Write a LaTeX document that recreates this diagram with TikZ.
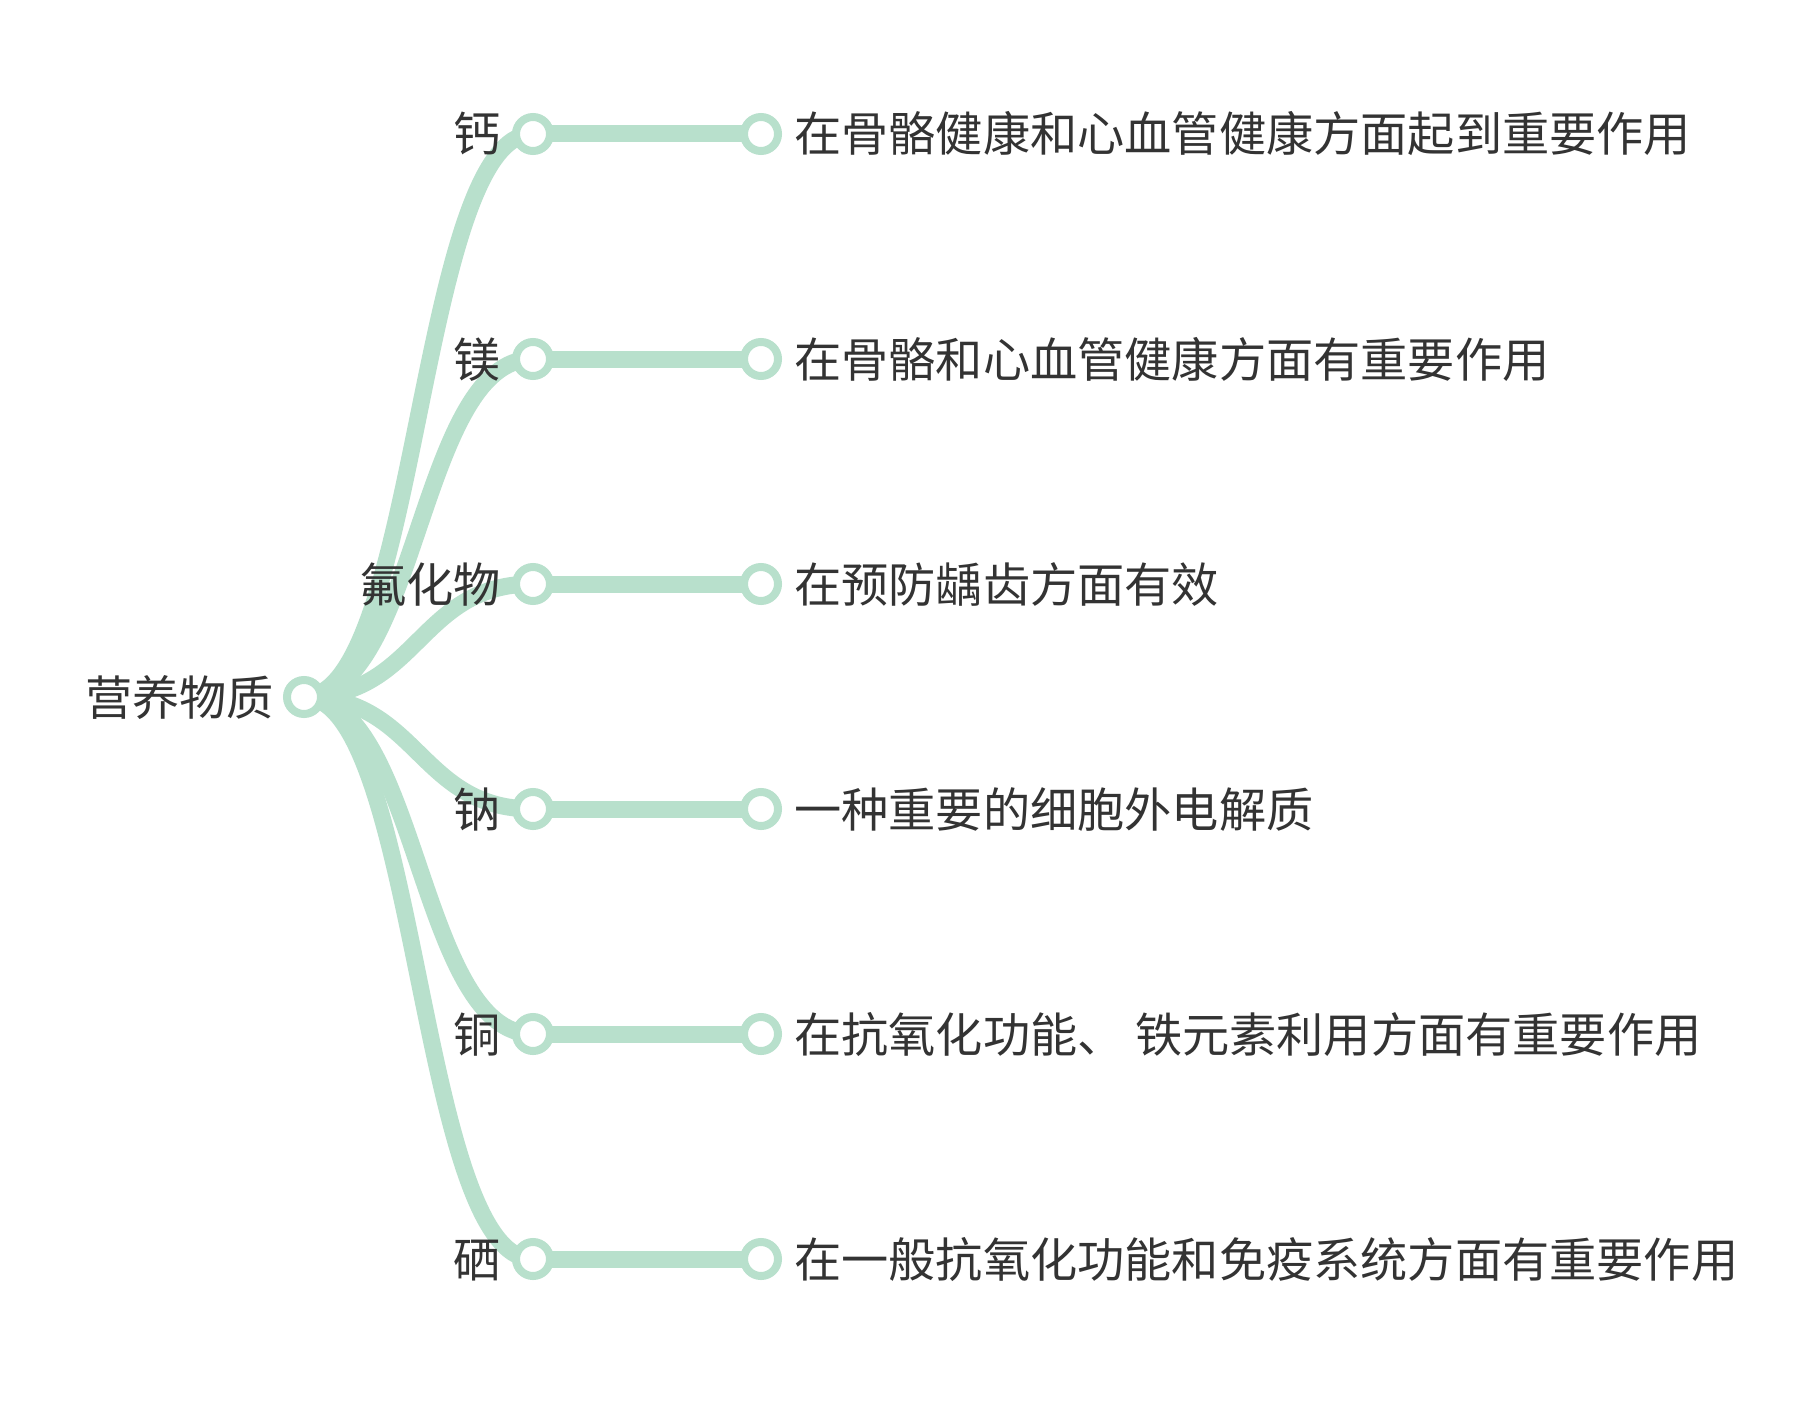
\documentclass[tikz,border=0pt]{standalone}
\usepackage{fontspec}
\newfontfamily\cjk{Noto Sans CJK SC}
\usetikzlibrary{backgrounds}
\definecolor{br}{RGB}{184,224,204}
\definecolor{tx}{RGB}{51,51,51}
\begin{document}
\begin{tikzpicture}[x=1pt,y=-1pt,
  link/.style={draw=br,line width=17pt},
  dot/.style={circle,draw=br,line width=8pt,fill=white,minimum size=34pt,inner sep=0pt},
  lbl/.style={font=\cjk\fontsize{47.2}{56}\selectfont,text=tx,inner sep=0pt}]
\useasboundingbox (0,0) rectangle (1800,1410);
\node[dot] (root) at (304,697) {};
\foreach \i/\y in {1/134,2/359,3/584,4/809,5/1034,6/1259}{
  \node[dot] (c\i) at (533,\y) {};
  \node[dot] (d\i) at (761,\y) {};
}
\begin{scope}[on background layer]
\fill[white] (0,0) rectangle (1800,1410);
\foreach \i in {1,...,6}{
  \draw[link] (root.center) .. controls +(114.5,0) and +(-114.5,0) .. (c\i.center);
  \draw[link] (c\i.center) -- (d\i.center);
}
\end{scope}
\node[lbl,anchor=base east] (rl) at (274,715) {营养物质};
\foreach \i/\y/\t in {1/134/钙,2/359/镁,3/584/氟化物,4/809/钠,5/1034/铜,6/1259/硒}{
  \node[lbl,anchor=base east] (a\i) at (501,\y+18) {\t};
}
\node[lbl,anchor=base west] (b1) at (794,152) {在骨骼健康和心血管健康方面起到重要作用};
\node[lbl,anchor=base west] (b2) at (794,377) {在骨骼和心血管健康方面有重要作用};
\node[lbl,anchor=base west] (b3) at (794,602) {在预防龋齿方面有效};
\node[lbl,anchor=base west] (b4) at (794,827) {一种重要的细胞外电解质};
\node[lbl,anchor=base west] (b5) at (794,1052) {在抗氧化功能、 铁元素利用方面有重要作用};
\node[lbl,anchor=base west] (b6) at (794,1277) {在一般抗氧化功能和免疫系统方面有重要作用};
\end{tikzpicture}
\end{document}
